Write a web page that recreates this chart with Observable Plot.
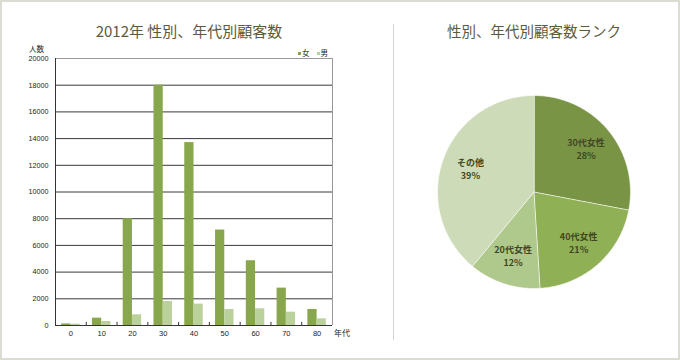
<!DOCTYPE html>
<html><head><meta charset="utf-8">
<script src="https://cdn.jsdelivr.net/npm/d3@7"></script>
<script src="https://cdn.jsdelivr.net/npm/@observablehq/plot@0.6"></script>
<style>
html,body{margin:0;padding:0;background:#fff;}
#wrap{position:relative;width:680px;height:360px;background:#fff;font-family:"Noto Sans CJK JP",sans-serif;overflow:hidden;}
.frame{position:absolute;left:0;top:0;width:680px;height:360px;box-sizing:border-box;border:2px solid #dcdcd2;pointer-events:none;}
.title{position:absolute;top:21px;line-height:20px;font-size:15px;color:#5c5a3c;white-space:nowrap;transform:translateX(-50%);}
.divider{position:absolute;left:393px;top:24px;width:1px;height:316px;background:#d4d4d0;}
.small{position:absolute;font-size:7.5px;color:#222;line-height:9px;white-space:nowrap;}
.sw{display:inline-block;width:3px;height:3px;margin-right:1px;vertical-align:middle;}
.abs{position:absolute;}
</style></head>
<body>
<div id="wrap">
  <div class="title" style="left:189px;">2012年 性別、年代別顧客数</div>
  <div class="title" style="left:534px;font-size:14.5px;">性別、年代別顧客数ランク</div>
  <div class="divider"></div>
  <div class="small" style="left:29px;top:44px;">人数</div>
  <div class="small" style="left:334px;top:328px;font-size:8px;">年代</div>
  <div class="small" id="legend" style="left:298px;top:48px;"></div>
  <div class="abs" id="bar" style="left:0px;top:40px;"></div>
  <div class="abs" id="pie" style="left:433px;top:91px;"></div>
  <div class="frame"></div>
</div>
<script>
// ---- data ----
const decades = [0, 10, 20, 30, 40, 50, 60, 70, 80];
const female = [120, 550, 8000, 18000, 13700, 7150, 4850, 2800, 1200];
const male = [100, 300, 800, 1800, 1600, 1200, 1250, 1000, 500];
const sexes = ["女", "男"];
const yTicks = [0, 2000, 4000, 6000, 8000, 10000, 12000, 14000, 16000, 18000, 20000];
const pieLabels = ["30代女性", "40代女性", "20代女性", "その他"];
const pieShares = [28, 21, 12, 39];

// ---- styles ----
const barColors = ["#88a64b", "#bbd19c"];
const pieColors = ["#7a9446", "#8fb055", "#afc88b", "#cddbb8"];

// legend
const legend = document.getElementById("legend");
sexes.forEach((s, i) => {
  const sp = document.createElement("span");
  sp.style.marginRight = "7px";
  sp.innerHTML = `<span class="sw" style="background:${barColors[i]}"></span>${s}`;
  legend.appendChild(sp);
});

// ---- bar chart ----
const rows = [];
decades.forEach((d, i) => {
  rows.push({decade: d, sex: sexes[0], value: female[i], side: -1});
  rows.push({decade: d, sex: sexes[1], value: male[i], side: 1});
});
const half = 3;
const step = decades[1] - decades[0];
const xMin = decades[0] - step / 2, xMax = decades[decades.length - 1] + step / 2;
const boundaries = decades.slice(1).map(d => d - step / 2);

const bar = Plot.plot({
  width: 360, height: 305,
  marginLeft: 55, marginRight: 28, marginTop: 18, marginBottom: 20,
  x: {domain: [xMin, xMax]},
  y: {domain: [yTicks[0], yTicks[yTicks.length - 1]]},
  color: {domain: sexes, range: barColors},
  style: {fontFamily: "'Liberation Sans', Arial, sans-serif", fontSize: "7.2px", color: "#222", background: "transparent"},
  marks: [
    Plot.gridY(yTicks.slice(1, -1), {stroke: "#3a3a3a", strokeOpacity: 1}),
    Plot.rectY(rows, {
      x1: d => d.side < 0 ? d.decade - half : d.decade,
      x2: d => d.side < 0 ? d.decade : d.decade + half,
      y: "value", fill: "sex"
    }),
    Plot.ruleY([yTicks[yTicks.length - 1]], {stroke: "#999"}),
    Plot.ruleX([xMax], {stroke: "#999"}),
    Plot.ruleX([xMin], {stroke: "#333"}),
    Plot.ruleY([0], {stroke: "#333"}),
    Plot.ruleX(boundaries, {y1: 0, y2: 230, stroke: "#333"}),
    Plot.axisY(yTicks, {tickSize: 0, tickPadding: 7, tickFormat: d => String(d), label: null}),
    Plot.axisX(decades, {tickSize: 0, tickPadding: 5, tickFormat: d => String(d), label: null, fontSize: 7.5})
  ]
});
document.getElementById("bar").appendChild(bar);

// ---- pie chart ----
const total = d3.sum(pieShares);
const polys = [];
const labelRows = [];
let acc = 0;
pieShares.forEach((s, i) => {
  const a0 = acc / total * 2 * Math.PI;
  const a1 = (acc + s) / total * 2 * Math.PI;
  const n = Math.max(2, Math.ceil((a1 - a0) / (Math.PI / 180)));
  polys.push({label: pieLabels[i], x: 0, y: 0});
  for (let k = 0; k <= n; k++) {
    const a = a0 + (a1 - a0) * k / n;
    polys.push({label: pieLabels[i], x: Math.sin(a), y: Math.cos(a)});
  }
  const am = (a0 + a1) / 2;
  const r = 0.7;
  labelRows.push({label: pieLabels[i], pct: `${s}%`, x: r * Math.sin(am), y: r * Math.cos(am)});
  acc += s;
});

const R = 96.5, m = 4;
const labelStyle = {x: "x", y: "y", fill: "#3f4823", fontWeight: "bold", fontSize: 9, fontFamily: "'Noto Sans CJK JP', sans-serif"};
const pie = Plot.plot({
  width: 2 * (R + m), height: 2 * (R + m),
  margin: m,
  x: {domain: [-1, 1], axis: null},
  y: {domain: [-1, 1], axis: null},
  color: {domain: pieLabels, range: pieColors},
  style: {background: "transparent"},
  marks: [
    Plot.line(polys, {x: "x", y: "y", z: "label", fill: "label", stroke: "#fff", strokeWidth: 0.6, curve: "linear-closed"}),
    Plot.text(labelRows, {...labelStyle, text: "label", dy: -6}),
    Plot.text(labelRows, {...labelStyle, text: "pct", dy: 7})
  ]
});
document.getElementById("pie").appendChild(pie);
</script>
</body></html>
